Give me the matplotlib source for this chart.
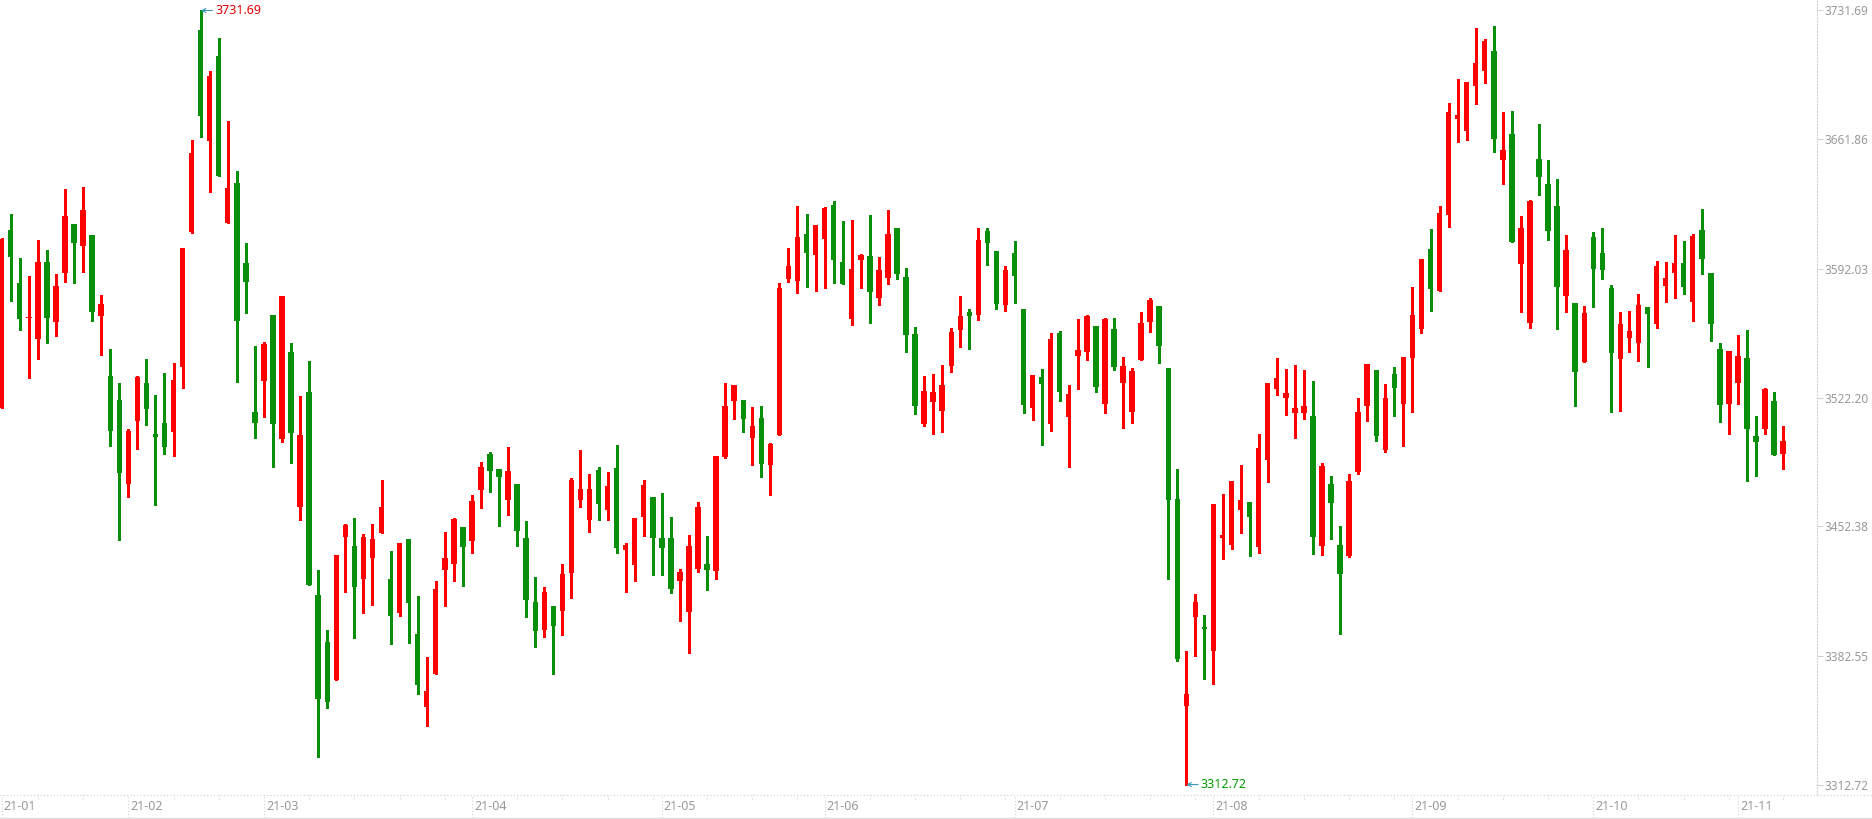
import matplotlib
matplotlib.use("Agg")
import matplotlib.pyplot as plt
import matplotlib.transforms as mtransforms
from matplotlib.lines import Line2D
import numpy as np

plt.rcParams['font.family'] = ['Noto Sans', 'DejaVu Sans']

# ---------------- data (daily candles, 2021) ----------------
opens = [3516.7, 3612.9, 3584.2, 3565.0, 3553.9, 3595.5, 3563.0, 3589.7, 3616.1, 3604.4,
         3610.3, 3566.4, 3534.1, 3521.1, 3475.5, 3509.4, 3530.3, 3502.7, 3508.6, 3503.3,
         3538.6, 3612.0, 3721.2, 3660.9, 3707.0, 3616.9, 3638.4, 3595.0, 3514.3, 3531.3,
         3566.9, 3499.9, 3546.8, 3463.1, 3525.2, 3415.3, 3389.8, 3369.5, 3446.9, 3441.8,
         3424.1, 3435.5, 3449.0, 3423.9, 3405.7, 3445.6, 3394.2, 3354.8, 3372.7, 3429.0,
         3432.2, 3452.1, 3444.7, 3472.3, 3491.6, 3483.5, 3466.9, 3475.4, 3446.1, 3411.5,
         3396.5, 3409.3, 3406.8, 3427.4, 3466.9, 3456.1, 3482.9, 3461.5, 3484.0, 3439.8,
         3431.7, 3457.7, 3468.3, 3446.1, 3446.1, 3423.0, 3406.3, 3429.5, 3432.1, 3428.5,
         3490.0, 3520.5, 3520.8, 3500.4, 3511.1, 3485.8, 3502.1, 3586.5, 3585.4, 3610.7,
         3599.5, 3608.1, 3626.4, 3595.5, 3564.8, 3596.8, 3598.8, 3576.2, 3587.0, 3613.9,
         3587.4, 3556.5, 3508.0, 3519.9, 3515.1, 3539.4, 3558.9, 3568.5, 3567.0, 3612.3,
         3601.5, 3572.3, 3600.4, 3570.1, 3516.7, 3533.3, 3508.0, 3557.1, 3511.8, 3544.8,
         3547.0, 3560.9, 3518.9, 3559.3, 3530.2, 3514.5, 3542.7, 3563.3, 3571.7, 3538.2,
         3467.2, 3355.4, 3403.5, 3398.1, 3385.1, 3446.3, 3442.5, 3461.5, 3465.6, 3441.4,
         3488.5, 3527.0, 3522.1, 3514.0, 3514.0, 3512.2, 3442.0, 3475.3, 3442.3, 3436.6,
         3481.8, 3517.8, 3537.1, 3493.9, 3534.9, 3518.9, 3543.8, 3559.5, 3602.6, 3580.1,
         3621.2, 3673.2, 3666.7, 3691.0, 3699.2, 3709.8, 3651.0, 3664.9, 3594.7, 3562.7,
         3651.3, 3637.8, 3625.9, 3577.4, 3573.4, 3541.6, 3609.1, 3600.5, 3581.5, 3543.3,
         3554.6, 3551.9, 3571.2, 3562.1, 3582.7, 3589.8, 3595.0, 3574.1, 3612.8, 3589.6,
         3548.4, 3518.8, 3530.2, 3543.6, 3501.3, 3505.3, 3520.3, 3491.8]
highs = [3608.3, 3621.6, 3597.8, 3587.9, 3607.4, 3602.1, 3589.1, 3635.2, 3616.1, 3636.3,
         3610.3, 3577.6, 3548.3, 3530.3, 3505.0, 3534.1, 3542.8, 3523.7, 3535.2, 3540.7,
         3603.1, 3661.8, 3731.69, 3698.9, 3716.8, 3671.7, 3645.0, 3606.0, 3550.1, 3552.2,
         3566.9, 3577.1, 3551.7, 3523.0, 3542.0, 3428.8, 3396.3, 3436.9, 3453.7, 3457.0,
         3448.3, 3453.7, 3477.5, 3439.1, 3443.4, 3445.6, 3414.7, 3381.7, 3422.9, 3449.4,
         3457.0, 3452.1, 3469.4, 3487.3, 3492.7, 3483.5, 3495.4, 3475.4, 3455.3, 3425.0,
         3419.6, 3409.3, 3432.1, 3478.6, 3493.8, 3480.8, 3484.6, 3481.9, 3496.5, 3443.4,
         3457.0, 3477.5, 3468.3, 3470.5, 3457.5, 3429.4, 3447.8, 3465.6, 3447.2, 3490.6,
         3530.0, 3528.9, 3520.8, 3517.0, 3517.6, 3497.5, 3584.2, 3603.1, 3625.8, 3621.5,
         3615.5, 3625.3, 3628.5, 3617.7, 3618.3, 3599.8, 3621.0, 3598.2, 3623.7, 3613.9,
         3592.3, 3560.3, 3533.8, 3534.9, 3539.8, 3559.8, 3577.1, 3570.1, 3614.0, 3614.0,
         3601.5, 3593.4, 3606.9, 3570.1, 3534.4, 3537.6, 3557.1, 3558.2, 3529.0, 3564.7,
         3566.9, 3560.9, 3565.2, 3565.2, 3544.1, 3538.2, 3568.5, 3576.1, 3571.7, 3538.2,
         3483.5, 3384.9, 3415.8, 3404.4, 3464.5, 3469.9, 3477.0, 3485.6, 3465.6, 3502.4,
         3530.0, 3543.6, 3537.6, 3539.8, 3537.1, 3531.1, 3486.7, 3479.7, 3452.6, 3480.8,
         3521.9, 3540.3, 3537.1, 3529.5, 3538.7, 3544.2, 3582.1, 3597.2, 3613.5, 3625.9,
         3681.7, 3694.6, 3693.0, 3722.3, 3716.3, 3723.3, 3676.8, 3677.3, 3620.5, 3629.1,
         3670.3, 3650.8, 3640.5, 3610.2, 3573.4, 3571.8, 3611.8, 3614.0, 3583.1, 3568.5,
         3569.1, 3578.2, 3571.2, 3596.1, 3595.5, 3610.1, 3606.9, 3610.7, 3624.2, 3589.6,
         3551.7, 3547.3, 3556.0, 3558.7, 3512.2, 3527.3, 3525.2, 3506.7]
lows = [3516.3, 3574.5, 3558.7, 3532.6, 3543.0, 3551.7, 3555.5, 3584.7, 3584.4, 3590.2,
        3563.6, 3545.3, 3495.8, 3445.1, 3468.6, 3494.1, 3507.1, 3464.2, 3491.4, 3490.8,
        3527.3, 3611.4, 3663.2, 3633.3, 3642.0, 3616.9, 3530.5, 3568.1, 3500.5, 3511.8,
        3484.8, 3498.3, 3486.9, 3456.1, 3420.9, 3327.8, 3354.3, 3369.5, 3417.1, 3392.2,
        3405.7, 3410.1, 3449.0, 3388.9, 3404.1, 3389.5, 3361.9, 3344.6, 3372.7, 3409.5,
        3423.0, 3420.3, 3438.2, 3462.6, 3471.2, 3452.8, 3458.8, 3442.0, 3403.5, 3387.3,
        3392.7, 3372.7, 3393.8, 3413.8, 3463.1, 3449.6, 3456.1, 3456.1, 3438.2, 3417.1,
        3423.0, 3447.4, 3426.3, 3426.3, 3416.5, 3401.4, 3384.1, 3427.9, 3418.2, 3424.0,
        3489.4, 3510.7, 3503.7, 3485.8, 3479.3, 3469.6, 3502.1, 3584.9, 3578.9, 3582.2,
        3580.0, 3581.6, 3584.3, 3583.8, 3561.6, 3581.6, 3562.7, 3572.4, 3583.8, 3586.5,
        3547.0, 3513.4, 3506.9, 3502.6, 3503.7, 3536.2, 3549.7, 3548.6, 3564.3, 3594.1,
        3570.3, 3569.2, 3573.5, 3514.0, 3510.2, 3496.7, 3504.2, 3520.5, 3484.8, 3527.0,
        3542.7, 3525.4, 3514.0, 3537.3, 3505.9, 3508.6, 3542.7, 3557.8, 3541.1, 3424.1,
        3379.5, 3312.72, 3382.4, 3369.8, 3367.3, 3434.9, 3440.3, 3449.0, 3436.6, 3438.2,
        3476.6, 3523.7, 3512.9, 3500.4, 3510.7, 3437.6, 3437.1, 3445.6, 3394.3, 3436.0,
        3480.9, 3509.6, 3498.8, 3492.9, 3512.3, 3496.2, 3514.6, 3557.3, 3569.2, 3580.1,
        3614.7, 3660.7, 3661.8, 3681.3, 3692.7, 3655.3, 3638.0, 3606.6, 3568.7, 3560.0,
        3632.0, 3607.7, 3559.5, 3568.7, 3517.8, 3541.6, 3571.4, 3586.6, 3514.6, 3515.1,
        3547.0, 3541.9, 3538.9, 3560.0, 3574.1, 3576.2, 3578.4, 3563.8, 3589.2, 3552.9,
        3509.1, 3502.6, 3518.8, 3477.2, 3479.9, 3502.6, 3491.2, 3483.7]
closes = [3608.0, 3598.0, 3564.7, 3566.0, 3595.5, 3565.3, 3582.5, 3620.5, 3606.1, 3623.9,
          3568.5, 3572.7, 3503.9, 3481.6, 3504.3, 3533.2, 3515.8, 3500.7, 3495.2, 3531.5,
          3603.1, 3654.8, 3674.5, 3696.0, 3642.0, 3635.8, 3563.8, 3584.9, 3508.6, 3551.2,
          3508.0, 3577.1, 3503.2, 3501.9, 3420.9, 3359.2, 3357.5, 3436.9, 3453.2, 3419.8,
          3446.7, 3445.6, 3462.9, 3404.1, 3443.4, 3411.1, 3366.7, 3363.3, 3418.5, 3435.3,
          3456.4, 3441.4, 3466.2, 3484.6, 3482.6, 3479.3, 3482.4, 3450.1, 3412.7, 3396.0,
          3416.9, 3398.7, 3426.6, 3477.5, 3472.7, 3472.7, 3464.7, 3474.3, 3440.9, 3442.3,
          3457.0, 3474.8, 3446.3, 3440.9, 3418.7, 3427.7, 3441.8, 3462.9, 3429.0, 3490.5,
          3517.6, 3528.9, 3510.7, 3506.7, 3486.4, 3497.0, 3581.4, 3593.4, 3609.1, 3600.6,
          3615.5, 3624.7, 3596.8, 3583.8, 3591.7, 3599.3, 3579.5, 3591.2, 3610.7, 3589.2,
          3556.2, 3517.7, 3525.7, 3525.1, 3529.0, 3557.7, 3566.3, 3566.5, 3607.5, 3606.0,
          3573.0, 3591.2, 3588.2, 3518.3, 3534.4, 3529.7, 3553.9, 3525.4, 3524.1, 3547.9,
          3566.3, 3528.1, 3564.7, 3538.9, 3539.3, 3536.5, 3562.5, 3575.0, 3550.3, 3466.7,
          3380.6, 3361.7, 3411.5, 3397.0, 3464.5, 3447.7, 3477.0, 3466.7, 3457.7, 3494.8,
          3530.0, 3532.7, 3524.6, 3516.5, 3517.6, 3446.8, 3485.1, 3465.2, 3426.8, 3477.0,
          3514.3, 3540.3, 3501.5, 3521.9, 3527.5, 3544.2, 3566.9, 3597.2, 3581.2, 3622.1,
          3676.8, 3675.2, 3693.0, 3703.3, 3715.2, 3662.4, 3656.2, 3606.6, 3614.0, 3628.6,
          3641.8, 3612.5, 3582.2, 3602.1, 3536.2, 3568.0, 3592.0, 3591.4, 3546.5, 3562.0,
          3558.2, 3572.2, 3567.6, 3593.4, 3586.9, 3595.0, 3582.2, 3609.6, 3597.3, 3562.1,
          3518.3, 3547.3, 3544.6, 3505.3, 3498.3, 3526.8, 3491.2, 3498.6]

month_labels = ['21-01', '21-02', '21-03', '21-04', '21-05', '21-06',
                '21-07', '21-08', '21-09', '21-10', '21-11']
month_start_idx = [0, 14, 29, 52, 73, 91, 112, 134, 156, 176, 192]
first_month_virtual_start = -6   # first trading day of Jan lies before the visible window

price_ticks = [3731.69, 3661.86, 3592.03, 3522.20, 3452.38, 3382.55, 3312.72]

high_idx, high_value = 22, 3731.69
low_idx, low_value = 131, 3312.72

# ---------------- style ----------------
RED = '#ff0000'
GREEN = '#0a8f0a'
AXIS_TXT = '#999999'
GRID = '#cfcfcf'

W, H, DPI = 1872, 819, 100
PLOT_RIGHT_PX = 1817
PLOT_BOTTOM_PX = 795

fig = plt.figure(figsize=(W / DPI, H / DPI), dpi=DPI, facecolor='white')
ax = fig.add_axes([0, (H - PLOT_BOTTOM_PX) / H, PLOT_RIGHT_PX / W, PLOT_BOTTOM_PX / H])

o = np.array(opens)
h = np.array(highs)
l = np.array(lows)
c = np.array(closes)
n = len(o)
x = np.arange(n)

ax.set_xlim(-0.188, 200.74)
ax.set_ylim(3307.04, 3737.37)

up = c >= o
colors = np.where(up, RED, GREEN)

ax.vlines(x, l, h, colors=colors, linewidth=0.75, antialiased=False, zorder=2)
body_bottom = np.minimum(o, c)
body_h = np.maximum(np.abs(c - o), 0.6)
ax.bar(x, body_h, bottom=body_bottom, width=0.6, color=colors,
       linewidth=0, antialiased=False, zorder=3)

# spines
for s in ['top', 'left', 'bottom']:
    ax.spines[s].set_visible(False)
ax.spines['right'].set_color(GRID)
ax.spines['right'].set_linestyle((0, (1, 2)))
ax.spines['right'].set_linewidth(0.8)

# right price axis
ax.yaxis.tick_right()
ax.set_yticks(price_ticks)
ax.set_yticklabels([f'{v:.2f}' for v in price_ticks])
ax.tick_params(axis='y', which='major', length=4, width=0.7, colors=GRID,
               labelcolor=AXIS_TXT, labelsize=8.5, pad=1.5, left=False, right=True)

# x axis: manual month labels and dotted ticks
ax.set_xticks([])
band = 23 / PLOT_BOTTOM_PX
xtrans = ax.get_xaxis_transform()
ax.vlines(month_start_idx, -band, 0, transform=xtrans, clip_on=False,
          colors=GRID, linestyles=(0, (1, 2)), linewidth=0.8)

starts = [first_month_virtual_start] + month_start_idx[1:] + [n]
minor_idx = []
for a, b in zip(starts[:-1], starts[1:]):
    k = a + 5
    while k < b:
        if k >= 0:
            minor_idx.append(k)
        k += 5
ax.vlines(minor_idx, -4 / PLOT_BOTTOM_PX, 0, transform=xtrans, clip_on=False,
          colors=GRID, linestyles=(0, (1, 2)), linewidth=0.8)

offset = mtransforms.ScaledTranslation(2 / DPI, 0, fig.dpi_scale_trans)
for idx, lab in zip(month_start_idx, month_labels):
    ax.text(idx, -11 / PLOT_BOTTOM_PX, lab, transform=xtrans + offset,
            ha='left', va='center', fontsize=9, color=AXIS_TXT, clip_on=False)

# frame lines of the axis band
fig.add_artist(Line2D([0, 1], [(H - PLOT_BOTTOM_PX) / H] * 2, transform=fig.transFigure,
                      color=GRID, linestyle=(0, (1, 2)), linewidth=0.8))
fig.add_artist(Line2D([0, 1], [1.5 / H] * 2, transform=fig.transFigure,
                      color='#dddddd', linewidth=1.0))

# high / low markers
ax.annotate(f'{high_value:.2f}', xy=(high_idx, high_value), xytext=(14.5, 0),
            textcoords='offset pixels', ha='left', va='center', fontsize=9, color='#e60000',
            arrowprops=dict(arrowstyle='->', color='#3a9ab8', lw=0.8, shrinkA=0, shrinkB=0,
                            mutation_scale=7, relpos=(0, 0.5)), zorder=5)
ax.annotate(f'{low_value:.2f}', xy=(low_idx, low_value), xytext=(14.5, 0),
            textcoords='offset pixels', ha='left', va='center', fontsize=9, color='#009a00',
            arrowprops=dict(arrowstyle='->', color='#3a9ab8', lw=0.8, shrinkA=0, shrinkB=0,
                            mutation_scale=7, relpos=(0, 0.5)), zorder=5)

fig.savefig('out.png', dpi=DPI, facecolor='white')
